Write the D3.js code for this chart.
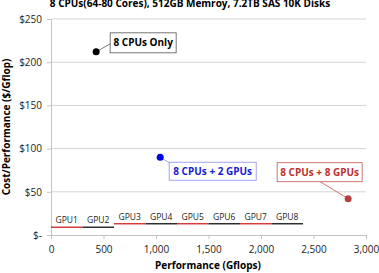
<!DOCTYPE html>
<html>
<head>
<meta charset="utf-8">
<script src="https://cdn.jsdelivr.net/npm/d3@7"></script>
<style>
  body { margin: 0; background: #fff; }
  svg text { font-family: "Open Sans", "Liberation Sans", sans-serif; }
</style>
</head>
<body>
<script>
//chart data
var configs = ["8 CPUs Only", "8 CPUs + 2 GPUs", "8 CPUs + 8 GPUs"];
var perfGflops = [430, 1040, 2830];
var costPerGflop = [212, 90, 42];
var pointColors = ["#000000", "#0000e6", "#b54040"];

var gpuNames = ["GPU1", "GPU2", "GPU3", "GPU4", "GPU5", "GPU6", "GPU7", "GPU8"];
var gpuStart = [0, 300, 600, 900, 1200, 1500, 1800, 2100];
var gpuEnd = [300, 600, 900, 1200, 1500, 1800, 2100, 2400];
var gpuCost = [9, 9, 13, 13, 13, 13, 13, 13];

var xTicks = [0, 500, 1000, 1500, 2000, 2500, 3000];
var yTicks = [0, 50, 100, 150, 200, 250];

var width = 379, height = 273;
var margin = {left: 51, right: 13, top: 19, bottom: 38};

var svg = d3.select("body").append("svg")
  .attr("width", width)
  .attr("height", height);

var xScale = d3.scaleLinear().domain([0, 3000]).range([margin.left, width - margin.right]);
var yScale = d3.scaleLinear().domain([0, 250]).range([height - margin.bottom, margin.top]);

//title (clipped at top like the original)
svg.append("text")
  .attr("x", 190).attr("y", 7)
  .attr("text-anchor", "middle")
  .attr("font-size", 10).attr("font-weight", "bold")
  .text("8 CPUs(64-80 Cores), 512GB Memroy, 7.2TB SAS 10K Disks");

//gridlines
svg.append("g")
  .selectAll("line")
  .data(yTicks.filter(function(d) { return d > 0; }))
  .enter().append("line")
    .attr("x1", xScale(0)).attr("x2", xScale(3000))
    .attr("y1", function(d) { return yScale(d); })
    .attr("y2", function(d) { return yScale(d); })
    .attr("stroke", "#d4d4d4");

//y axis
var yAxis = svg.append("g")
  .attr("transform", "translate(" + margin.left + ",0)")
  .call(d3.axisLeft(yScale).tickValues(yTicks).tickSize(4)
    .tickFormat(function(d) { return d === 0 ? "$-" : "$" + d; }));
yAxis.selectAll("text").attr("font-size", 10).attr("fill", "#222").attr("x", -9);

//x axis
var xAxis = svg.append("g")
  .attr("transform", "translate(0," + yScale(0) + ")")
  .call(d3.axisBottom(xScale).tickValues(xTicks).tickSize(4).tickFormat(d3.format(",")));
xAxis.selectAll("text").attr("font-size", 10).attr("fill", "#222").attr("y", 11);

svg.selectAll(".domain, .tick line").attr("stroke", "#c4c4c4");

//axis titles
svg.append("text")
  .attr("x", 208).attr("y", 269)
  .attr("text-anchor", "middle")
  .attr("font-size", 10).attr("font-weight", "bold")
  .text("Performance (Gflops)");

svg.append("text")
  .attr("transform", "translate(10,127) rotate(-90)")
  .attr("text-anchor", "middle")
  .attr("font-size", 10).attr("font-weight", "bold")
  .text("Cost/Performance ($/Gflop)");

//gpu segments
var gpu = svg.append("g").selectAll("g")
  .data(gpuNames)
  .enter().append("g");

gpu.append("line")
  .attr("x1", function(d, i) { return xScale(gpuStart[i]); })
  .attr("x2", function(d, i) { return xScale(gpuEnd[i]); })
  .attr("y1", function(d, i) { return yScale(gpuCost[i]); })
  .attr("y2", function(d, i) { return yScale(gpuCost[i]); })
  .attr("stroke", function(d, i) { return i % 2 === 0 ? "#d02020" : "#111"; })
  .attr("stroke-width", 1.3);

gpu.append("text")
  .attr("x", function(d, i) { return xScale((gpuStart[i] + gpuEnd[i]) / 2); })
  .attr("y", function(d, i) { return yScale(gpuCost[i]) - 4; })
  .attr("text-anchor", "middle")
  .attr("font-size", 8.5).attr("fill", "#222")
  .text(function(d) { return d; });

//callouts: box offsets relative to each point
var boxes = [
  {dx: 14, dy: -19, w: 66, h: 20, stroke: "#555", text: "#000", lx: 14, ly: -8},
  {dx: 9, dy: 5, w: 87, h: 18, stroke: "#8c8cf0", text: "#1a1ad0", lx: 10, ly: 6},
  {dx: -71, dy: -36, w: 85, h: 19, stroke: "#c85050", text: "#c0302f", lx: -28, ly: -17}
];

var callout = svg.append("g").selectAll("g")
  .data(configs)
  .enter().append("g");

callout.append("line")
  .attr("x1", function(d, i) { return xScale(perfGflops[i]) + boxes[i].lx; })
  .attr("y1", function(d, i) { return yScale(costPerGflop[i]) + boxes[i].ly; })
  .attr("x2", function(d, i) { return xScale(perfGflops[i]); })
  .attr("y2", function(d, i) { return yScale(costPerGflop[i]); })
  .attr("stroke", function(d, i) { return boxes[i].stroke; })
  .attr("stroke-width", 0.8);

callout.append("rect")
  .attr("x", function(d, i) { return xScale(perfGflops[i]) + boxes[i].dx; })
  .attr("y", function(d, i) { return yScale(costPerGflop[i]) + boxes[i].dy; })
  .attr("width", function(d, i) { return boxes[i].w; })
  .attr("height", function(d, i) { return boxes[i].h; })
  .attr("fill", "#fff")
  .attr("stroke", function(d, i) { return boxes[i].stroke; })
  .attr("stroke-width", 0.8);

callout.append("text")
  .attr("x", function(d, i) { return xScale(perfGflops[i]) + boxes[i].dx + boxes[i].w / 2; })
  .attr("y", function(d, i) { return yScale(costPerGflop[i]) + boxes[i].dy + boxes[i].h / 2 + 3.5; })
  .attr("text-anchor", "middle")
  .attr("font-size", 10).attr("font-weight", "bold")
  .attr("fill", function(d, i) { return boxes[i].text; })
  .text(function(d) { return d; });

//points
svg.append("g").selectAll("circle")
  .data(configs)
  .enter().append("circle")
    .attr("cx", function(d, i) { return xScale(perfGflops[i]); })
    .attr("cy", function(d, i) { return yScale(costPerGflop[i]); })
    .attr("r", 3.5)
    .attr("fill", function(d, i) { return pointColors[i]; });
</script>
</body>
</html>
